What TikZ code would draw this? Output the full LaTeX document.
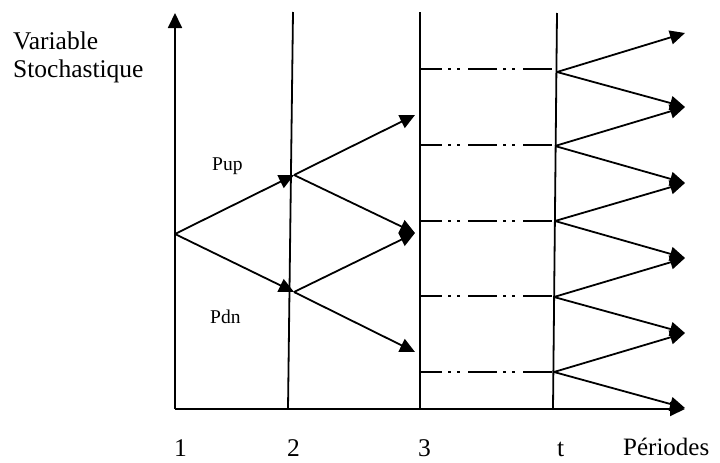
\documentclass[tikz,border=0pt]{standalone}
\usepackage{fontspec}
\setmainfont{Liberation Serif}
\usetikzlibrary{arrows.meta}
\tikzset{
  ln/.style={line width=1.8pt},
  arr/.style={ln,-{Triangle[length=15pt,width=14pt]}},
  dd/.style={line width=1.9pt,dash pattern=on 29pt off 6pt on 3pt off 6pt on 3pt off 8pt,dash phase=8pt},
  big/.style={font=\fontsize{25.5}{30}\selectfont,inner sep=0pt,anchor=base west},
  small/.style={font=\fontsize{19.5}{22}\selectfont,inner sep=0pt,anchor=base west}
}
\begin{document}
\begin{tikzpicture}[x=1pt,y=-1pt]
\useasboundingbox (0,0) rectangle (720,463);
% axes
\coordinate (O) at (175,409);
\coordinate (Ytop) at (175,13);
\coordinate (Xend) at (685,409);
\draw[arr] (O) -- (Ytop);
\draw[arr] (O) -- (Xend);
% period lines
\coordinate (p2t) at (293,12); \coordinate (p2b) at (288,409);
\coordinate (p3t) at (420,12); \coordinate (p3b) at (420,409);
\coordinate (ptt) at (557,13); \coordinate (ptb) at (553,409);
\draw[ln] (p2t) -- (p2b);
\draw[ln] (p3t) -- (p3b);
\draw[ln] (ptt) -- (ptb);
% tree nodes
\coordinate (A) at (175,234);
\coordinate (B) at (294,175);
\coordinate (C) at (294,292);
\coordinate (D1) at (415,115);
\coordinate (D2) at (415,233);
\coordinate (D3) at (415,352);
\draw[arr] (A) -- (B);
\draw[arr] (A) -- (C);
\draw[arr] (B) -- (D1);
\draw[arr] (B) -- (D2);
\draw[arr] (C) -- (D2);
\draw[arr] (C) -- (D3);
% dash-dot-dot lines
\foreach \i/\y in {1/69,2/145,3/221,4/296,5/372}{
  \coordinate (L\i) at (421,\y);
  \coordinate (M\i) at (555,\y);
  \draw[dd] (L\i) -- (M\i);
}
% branches at t
\coordinate (T1) at (557,72);
\coordinate (T2) at (555,146);
\coordinate (T3) at (555,221);
\coordinate (T4) at (554,297);
\coordinate (T5) at (554,372);
\coordinate (R0) at (685,33);
\coordinate (R1) at (685,107);
\coordinate (R2) at (685,183);
\coordinate (R3) at (685,258);
\coordinate (R4) at (685,333);
\coordinate (R5) at (685,408);
\draw[arr] (T1) -- (R0);
\draw[arr] (T1) -- (R1);
\draw[arr] (T2) -- (R1);
\draw[arr] (T2) -- (R2);
\draw[arr] (T3) -- (R2);
\draw[arr] (T3) -- (R3);
\draw[arr] (T4) -- (R3);
\draw[arr] (T4) -- (R4);
\draw[arr] (T5) -- (R4);
\draw[arr] (T5) -- (R5);
% labels
\node[big] (var) at (13,49) {Variable};
\node[big] (sto) at (13,77) {Stochastique};
\node[small] (pup) at (212,170) {Pup};
\node[small] (pdn) at (210,323) {Pdn};
\node[big] (n1) at (174,456) {1};
\node[big] (n2) at (287,456) {2};
\node[big] (n3) at (418,456) {3};
\node[big] (nt) at (557,456) {t};
\node[big,font=\fontsize{25}{30}\selectfont] (per) at (623,455) {Périodes};
\end{tikzpicture}
\end{document}
